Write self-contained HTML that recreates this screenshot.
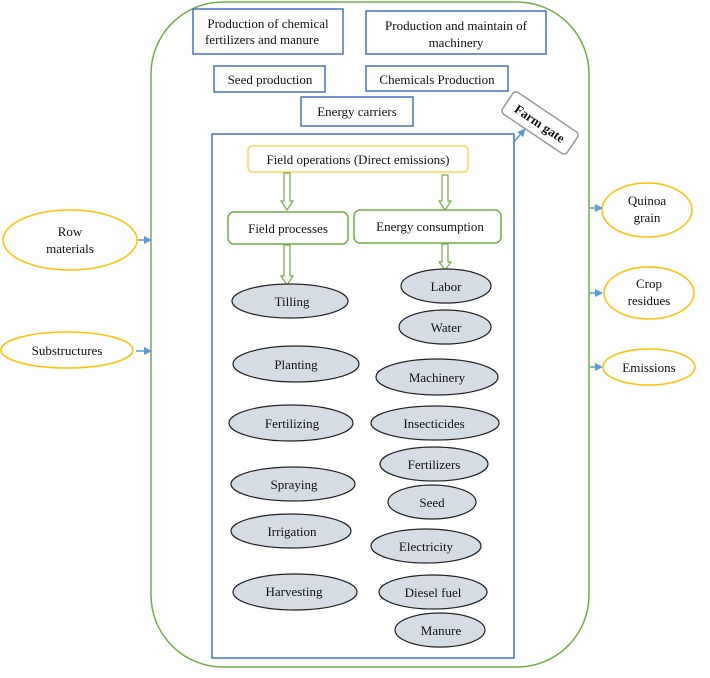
<!DOCTYPE html>
<html><head><meta charset="utf-8"><style>
html,body{margin:0;padding:0;background:#fff;}
svg text{font-family:"Liberation Serif",serif;font-size:13px;fill:#111;}
</style></head><body>
<svg width="710" height="673" viewBox="0 0 710 673" xmlns="http://www.w3.org/2000/svg">
<defs>
<marker id="ab" markerWidth="8" markerHeight="8" refX="6" refY="4" orient="auto" markerUnits="userSpaceOnUse"><path d="M0,0 L8,4 L0,8 z" fill="#5b9bd5"/></marker>
</defs>
<rect x="151" y="2" width="438" height="665" rx="72" fill="none" stroke="#70ad47" stroke-width="1.5"/>
<g fill="#fff" stroke="#4472c4" stroke-width="1.5">
<rect x="193" y="9" width="150" height="45"/>
<rect x="366" y="11" width="180" height="43"/>
<rect x="214" y="66" width="111" height="26"/>
<rect x="366" y="66" width="142" height="25"/>
<rect x="301" y="97" width="112" height="29"/>
<rect x="212" y="134" width="302" height="524"/>
</g>
<text x="268" y="28" text-anchor="middle">Production of chemical</text>
<text x="262" y="44" text-anchor="middle">fertilizers and manure</text>
<text x="456" y="30" text-anchor="middle">Production and maintain of</text>
<text x="456" y="47" text-anchor="middle">machinery</text>
<text x="270" y="84" text-anchor="middle">Seed production</text>
<text x="437" y="84" text-anchor="middle">Chemicals Production</text>
<text x="357" y="116" text-anchor="middle">Energy carriers</text>
<g transform="translate(540,123) rotate(34)">
<rect x="-39" y="-13" width="78" height="26" rx="4" fill="#fff" stroke="#999" stroke-width="1.5"/>
<text x="0" y="5" text-anchor="middle" font-weight="bold" style="font-weight:bold">Farm gate</text>
</g>
<line x1="514" y1="142" x2="524" y2="130" stroke="#5b9bd5" stroke-width="1.5" marker-end="url(#ab)"/>
<rect x="248" y="146" width="220" height="26" rx="4" fill="#fff" stroke="#ffc000" stroke-width="1"/>
<text x="358" y="164" text-anchor="middle">Field operations (Direct emissions)</text>
<rect x="228" y="212" width="120" height="32" rx="6" fill="#fff" stroke="#70ad47" stroke-width="1.5"/>
<text x="288" y="233" text-anchor="middle">Field processes</text>
<rect x="354" y="210" width="147" height="33" rx="6" fill="#fff" stroke="#70ad47" stroke-width="1.5"/>
<text x="430" y="231" text-anchor="middle">Energy consumption</text>
<g fill="#fff" stroke="#70ad47" stroke-width="1.2">
<path d="M284,173 h6 v28 h3 l-6,9 l-6,-9 h3 z"/>
<path d="M442,175 h6 v26 h3 l-6,9 l-6,-9 h3 z"/>
<path d="M284,245 h6 v31 h3 l-6,9 l-6,-9 h3 z"/>
<path d="M442,244 h6 v18 h3 l-6,8 l-6,-8 h3 z"/>
</g>
<g fill="#d6dce4" stroke="#222" stroke-width="1.2">
<ellipse cx="290" cy="301" rx="58" ry="17"/>
<ellipse cx="296" cy="364" rx="63" ry="18"/>
<ellipse cx="291" cy="423" rx="62" ry="18"/>
<ellipse cx="293" cy="484" rx="62" ry="17"/>
<ellipse cx="291" cy="531" rx="60" ry="17"/>
<ellipse cx="295" cy="592" rx="62" ry="18"/>
<ellipse cx="446" cy="286" rx="45" ry="17"/>
<ellipse cx="445" cy="327" rx="46" ry="17"/>
<ellipse cx="437" cy="377" rx="61" ry="18"/>
<ellipse cx="435" cy="423" rx="64" ry="17"/>
<ellipse cx="434" cy="464" rx="54" ry="17"/>
<ellipse cx="432" cy="502" rx="44" ry="17"/>
<ellipse cx="426" cy="546" rx="55" ry="17"/>
<ellipse cx="433" cy="592" rx="54" ry="17"/>
<ellipse cx="440" cy="630" rx="45" ry="17"/>
</g>
<g text-anchor="middle">
<text x="292" y="306">Tilling</text>
<text x="296" y="369">Planting</text>
<text x="292" y="428">Fertilizing</text>
<text x="294" y="489">Spraying</text>
<text x="292" y="536">Irrigation</text>
<text x="294" y="596">Harvesting</text>
<text x="446" y="291">Labor</text>
<text x="446" y="332">Water</text>
<text x="437" y="382">Machinery</text>
<text x="434" y="428">Insecticides</text>
<text x="434" y="469">Fertilizers</text>
<text x="432" y="507">Seed</text>
<text x="426" y="551">Electricity</text>
<text x="433" y="597">Diesel fuel</text>
<text x="441" y="635">Manure</text>
</g>
<g fill="#fff" stroke="#ffc000" stroke-width="1.5">
<ellipse cx="70" cy="240" rx="67" ry="30"/>
<ellipse cx="67" cy="350" rx="66" ry="18"/>
<ellipse cx="647" cy="210" rx="45" ry="27"/>
<ellipse cx="649" cy="293" rx="45" ry="26"/>
<ellipse cx="649" cy="367" rx="46" ry="18"/>
</g>
<g text-anchor="middle">
<text x="70" y="236">Row</text>
<text x="70" y="253">materials</text>
<text x="67" y="355">Substructures</text>
<text x="647" y="205">Quinoa</text>
<text x="647" y="222">grain</text>
<text x="649" y="288">Crop</text>
<text x="649" y="305">residues</text>
<text x="649" y="372">Emissions</text>
</g>
<g stroke="#5b9bd5" stroke-width="1.5" marker-end="url(#ab)">
<line x1="138" y1="240" x2="150" y2="240"/>
<line x1="136" y1="351" x2="150" y2="351"/>
<line x1="590" y1="208" x2="601" y2="208"/>
<line x1="590" y1="293" x2="601" y2="293"/>
<line x1="590" y1="367" x2="601" y2="367"/>
</g>
</svg>
</body></html>
